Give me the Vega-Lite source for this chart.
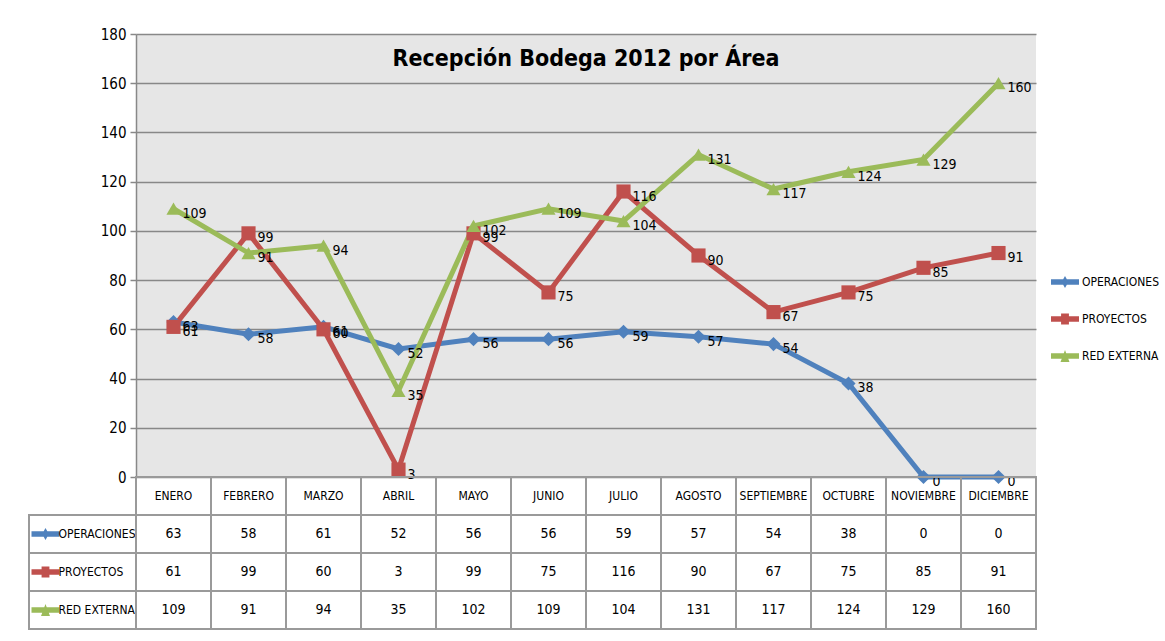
{
  "$schema": "https://vega.github.io/schema/vega-lite/v6.json",
  "padding": {"left": 28, "top": 27, "right": 0, "bottom": 0},
  "background": "white",
  "config": {"font": "Liberation Sans Narrow, DejaVu Sans Condensed, sans-serif", "view": {"stroke": null}},
  "datasets": {
    "d": [
      {"mes": "ENERO", "serie": "OPERACIONES", "valor": 63},
      {"mes": "FEBRERO", "serie": "OPERACIONES", "valor": 58},
      {"mes": "MARZO", "serie": "OPERACIONES", "valor": 61},
      {"mes": "ABRIL", "serie": "OPERACIONES", "valor": 52},
      {"mes": "MAYO", "serie": "OPERACIONES", "valor": 56},
      {"mes": "JUNIO", "serie": "OPERACIONES", "valor": 56},
      {"mes": "JULIO", "serie": "OPERACIONES", "valor": 59},
      {"mes": "AGOSTO", "serie": "OPERACIONES", "valor": 57},
      {"mes": "SEPTIEMBRE", "serie": "OPERACIONES", "valor": 54},
      {"mes": "OCTUBRE", "serie": "OPERACIONES", "valor": 38},
      {"mes": "NOVIEMBRE", "serie": "OPERACIONES", "valor": 0},
      {"mes": "DICIEMBRE", "serie": "OPERACIONES", "valor": 0},
      {"mes": "ENERO", "serie": "PROYECTOS", "valor": 61},
      {"mes": "FEBRERO", "serie": "PROYECTOS", "valor": 99},
      {"mes": "MARZO", "serie": "PROYECTOS", "valor": 60},
      {"mes": "ABRIL", "serie": "PROYECTOS", "valor": 3},
      {"mes": "MAYO", "serie": "PROYECTOS", "valor": 99},
      {"mes": "JUNIO", "serie": "PROYECTOS", "valor": 75},
      {"mes": "JULIO", "serie": "PROYECTOS", "valor": 116},
      {"mes": "AGOSTO", "serie": "PROYECTOS", "valor": 90},
      {"mes": "SEPTIEMBRE", "serie": "PROYECTOS", "valor": 67},
      {"mes": "OCTUBRE", "serie": "PROYECTOS", "valor": 75},
      {"mes": "NOVIEMBRE", "serie": "PROYECTOS", "valor": 85},
      {"mes": "DICIEMBRE", "serie": "PROYECTOS", "valor": 91},
      {"mes": "ENERO", "serie": "RED EXTERNA", "valor": 109},
      {"mes": "FEBRERO", "serie": "RED EXTERNA", "valor": 91},
      {"mes": "MARZO", "serie": "RED EXTERNA", "valor": 94},
      {"mes": "ABRIL", "serie": "RED EXTERNA", "valor": 35},
      {"mes": "MAYO", "serie": "RED EXTERNA", "valor": 102},
      {"mes": "JUNIO", "serie": "RED EXTERNA", "valor": 109},
      {"mes": "JULIO", "serie": "RED EXTERNA", "valor": 104},
      {"mes": "AGOSTO", "serie": "RED EXTERNA", "valor": 131},
      {"mes": "SEPTIEMBRE", "serie": "RED EXTERNA", "valor": 117},
      {"mes": "OCTUBRE", "serie": "RED EXTERNA", "valor": 124},
      {"mes": "NOVIEMBRE", "serie": "RED EXTERNA", "valor": 129},
      {"mes": "DICIEMBRE", "serie": "RED EXTERNA", "valor": 160}
    ],
    "meses": [
      {"mes": "ENERO"}, {"mes": "FEBRERO"}, {"mes": "MARZO"}, {"mes": "ABRIL"},
      {"mes": "MAYO"}, {"mes": "JUNIO"}, {"mes": "JULIO"}, {"mes": "AGOSTO"},
      {"mes": "SEPTIEMBRE"}, {"mes": "OCTUBRE"}, {"mes": "NOVIEMBRE"}, {"mes": "DICIEMBRE"}
    ],
    "series": [
      {"serie": "OPERACIONES"}, {"serie": "PROYECTOS"}, {"serie": "RED EXTERNA"}
    ]
  },
  "columns": 2,
  "spacing": 0,
  "bounds": "flush",
  "align": "each",
  "resolve": {
    "scale": {"x": "independent", "y": "independent", "color": "independent", "shape": "independent"},
    "legend": {"color": "independent", "shape": "independent"}
  },
  "concat": [
    {
      "width": 107,
      "height": 443,
      "data": {"values": [{}]},
      "mark": {"type": "text", "text": ""}
    },
    {
      "width": 900,
      "height": 443,
      "title": {"text": "Recepción Bodega 2012 por Área", "fontSize": 23, "fontWeight": "bold", "anchor": "middle", "offset": 0, "dy": 44, "color": "black"},
      "view": {"fill": "#E6E6E6", "stroke": null},
      "data": {"name": "d"},
      "encoding": {
        "x": {"field": "mes", "type": "nominal", "scale": {"type": "point", "padding": 0.5, "domain": ["ENERO","FEBRERO","MARZO","ABRIL","MAYO","JUNIO","JULIO","AGOSTO","SEPTIEMBRE","OCTUBRE","NOVIEMBRE","DICIEMBRE"]}, "axis": null},
        "y": {"field": "valor", "type": "quantitative", "scale": {"domain": [0, 180]},
          "axis": {"values": [0,20,40,60,80,100,120,140,160,180], "grid": true, "gridColor": "#888888", "gridWidth": 1.5, "domainColor": "#888888", "domainWidth": 1.5, "tickColor": "#888888", "tickWidth": 1.5, "tickSize": 6, "labelFontSize": 15, "labelColor": "black", "labelPadding": 4, "title": null}},
        "color": {"field": "serie", "type": "nominal", "scale": {"domain": ["OPERACIONES","PROYECTOS","RED EXTERNA"], "range": ["#4F81BD","#C0504D","#9BBB59"]}, "legend": null}
      },
      "layer": [
        {"mark": {"type": "line", "strokeWidth": 5}},
        {"mark": {"type": "point", "filled": true, "opacity": 1, "size": 200},
          "encoding": {"shape": {"field": "serie", "type": "nominal", "scale": {"domain": ["OPERACIONES","PROYECTOS","RED EXTERNA"], "range": ["diamond","square","triangle-up"]}, "legend": null}}},
        {"mark": {"type": "text", "align": "left", "dx": 9, "dy": 5, "fontSize": 14},
          "encoding": {"text": {"field": "valor", "type": "quantitative"}, "color": {"value": "black"}}}
      ]
    },
    {
      "width": 107,
      "height": 152,
      "data": {"name": "series"},
      "encoding": {
        "y": {"field": "serie", "type": "nominal", "scale": {"type": "band", "domain": ["MES","OPERACIONES","PROYECTOS","RED EXTERNA"], "paddingInner": 0, "paddingOuter": 0}, "axis": null}
      },
      "layer": [
        {"mark": {"type": "rect", "fill": "white", "stroke": "#9a9a9a", "strokeWidth": 2}},
        {"mark": {"type": "point", "filled": true, "opacity": 1, "size": 784},
          "encoding": {
            "xOffset": {"value": -37},
            "color": {"field": "serie", "type": "nominal", "scale": {"domain": ["OPERACIONES","PROYECTOS","RED EXTERNA"], "range": ["#4F81BD","#C0504D","#9BBB59"]},
              "legend": {"orient": "none", "legendX": 1021, "legendY": -210, "title": null, "symbolSize": 784, "labelFontSize": 12, "labelColor": "black", "rowPadding": 16, "padding": 0, "labelOffset": 2}},
            "shape": {"field": "serie", "type": "nominal", "scale": {"domain": ["OPERACIONES","PROYECTOS","RED EXTERNA"], "range": [
              "M-1,-0.2L1,-0.2L1,0.2L-1,0.2Z M0,-0.42L0.24,0L0,0.42L-0.24,0Z",
              "M-1,-0.2L1,-0.2L1,0.2L-1,0.2Z M-0.28,-0.4L0.28,-0.4L0.28,0.4L-0.28,0.4Z",
              "M-1,-0.2L1,-0.2L1,0.2L-1,0.2Z M0,-0.42L0.32,0.42L-0.32,0.42Z"]},
              "legend": {"orient": "none", "legendX": 1021, "legendY": -210, "title": null, "symbolSize": 784, "labelFontSize": 12, "labelColor": "black", "rowPadding": 16, "padding": 0, "labelOffset": 2}}
          }},
        {"mark": {"type": "text", "align": "left", "dx": -24, "fontSize": 12, "color": "black"},
          "encoding": {"text": {"field": "serie", "type": "nominal"}}}
      ]
    },
    {
      "width": 900,
      "height": 152,
      "encoding": {
        "x": {"field": "mes", "type": "nominal", "scale": {"type": "band", "domain": ["ENERO","FEBRERO","MARZO","ABRIL","MAYO","JUNIO","JULIO","AGOSTO","SEPTIEMBRE","OCTUBRE","NOVIEMBRE","DICIEMBRE"], "paddingInner": 0, "paddingOuter": 0}, "axis": null}
      },
      "layer": [
        {"data": {"name": "d"}, "mark": {"type": "rect", "fill": "white", "stroke": "#9a9a9a", "strokeWidth": 2},
          "encoding": {"y": {"field": "serie", "type": "nominal", "scale": {"type": "band", "domain": ["MES","OPERACIONES","PROYECTOS","RED EXTERNA"], "paddingInner": 0, "paddingOuter": 0}, "axis": null}}},
        {"data": {"name": "meses"}, "mark": {"type": "rect", "fill": "transparent", "stroke": "#9a9a9a", "strokeWidth": 2},
          "encoding": {"y": {"datum": "MES", "type": "nominal"}}},
        {"data": {"name": "d"}, "mark": {"type": "text", "fontSize": 14, "color": "black"},
          "encoding": {"y": {"field": "serie", "type": "nominal"}, "text": {"field": "valor", "type": "quantitative"}}},
        {"data": {"name": "meses"}, "mark": {"type": "text", "fontSize": 12, "color": "black"},
          "encoding": {"y": {"datum": "MES", "type": "nominal"}, "text": {"field": "mes", "type": "nominal"}}}
      ]
    }
  ]
}
